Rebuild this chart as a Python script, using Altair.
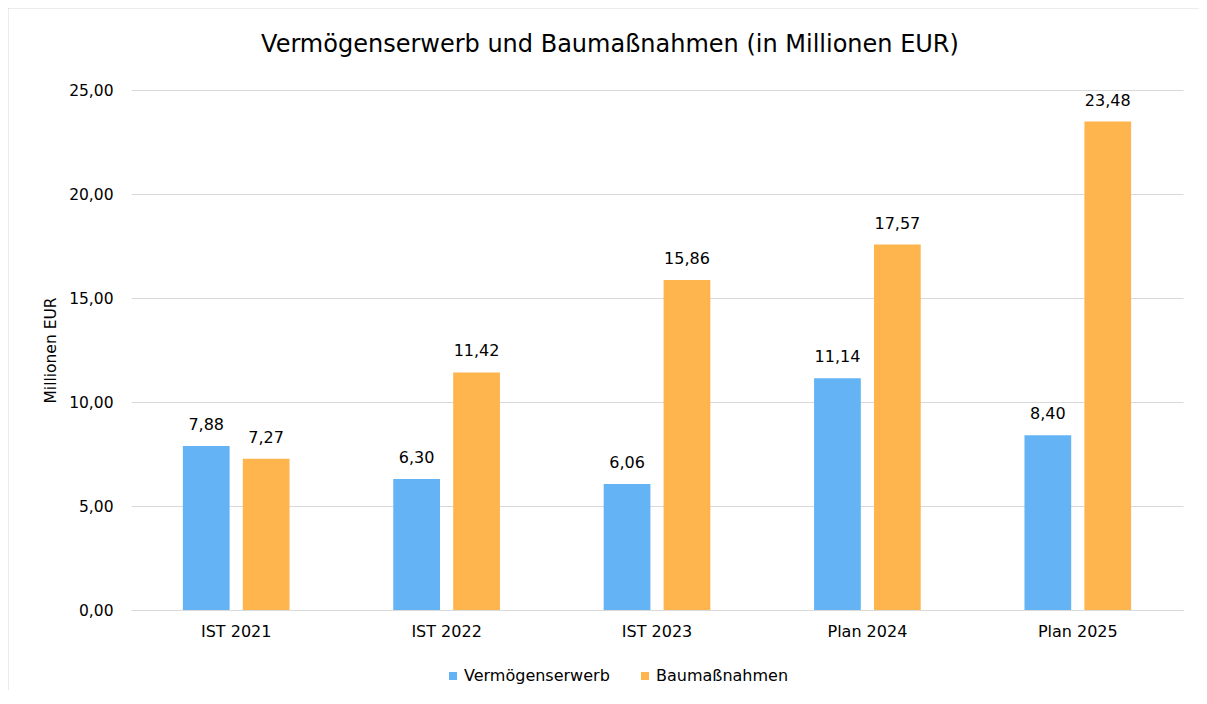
import altair as alt
import pandas as pd

categories = ["IST 2021", "IST 2022", "IST 2023", "Plan 2024", "Plan 2025"]
series = ["Vermögenserwerb", "Baumaßnahmen"]
vermoegenserwerb = [7.88, 6.30, 6.06, 11.14, 8.40]
baumassnahmen = [7.27, 11.42, 15.86, 17.57, 23.48]
colors = ["#63B3F5", "#FFB54D"]

rows = []
for c, v, b in zip(categories, vermoegenserwerb, baumassnahmen):
    rows.append({"cat": c, "series": series[0], "value": v})
    rows.append({"cat": c, "series": series[1], "value": b})
df = pd.DataFrame(rows)

FONT = "DejaVu Sans"
W, H = 1052, 520
LEFT = 123

base = alt.Chart(df).transform_calculate(
    label="replace(format(datum.value, '.2f'), '.', ',')"
).encode(
    x=alt.X("cat:N", sort=categories, title=None,
            scale=alt.Scale(paddingInner=0.493, paddingOuter=0.2465),
            axis=alt.Axis(labelAngle=0, labelFontSize=16, labelColor="#000000",
                          labelFont=FONT, ticks=False, domainColor="#d9d9d9",
                          labelPadding=13, domainWidth=1)),
    xOffset=alt.XOffset("series:N", sort=series,
                        scale=alt.Scale(paddingInner=0.22, paddingOuter=0)),
)

bars = base.mark_bar().encode(
    y=alt.Y("value:Q", title="Millionen EUR",
            scale=alt.Scale(domain=[0, 25], nice=False),
            axis=alt.Axis(values=[0, 5, 10, 15, 20, 25],
                          labelExpr="replace(format(datum.value, '.2f'), '.', ',')",
                          labelFontSize=15.5, labelColor="#000000", labelFont=FONT,
                          labelPadding=18, ticks=False, domain=False,
                          gridColor="#d9d9d9", gridWidth=1,
                          titleFont=FONT, titleFontSize=15.5, titleFontWeight="normal",
                          titleColor="#000000", titleX=-73)),
    color=alt.Color("series:N", sort=series,
                    scale=alt.Scale(domain=series, range=colors),
                    legend=alt.Legend(orient="none", direction="horizontal",
                                      legendX=314, legendY=578, title=None,
                                      symbolType="square", symbolSize=64,
                                      symbolStrokeWidth=0, labelFont=FONT,
                                      labelFontSize=16, labelColor="#000000",
                                      labelOffset=3, columnPadding=27, padding=0)),
)

labels = base.mark_text(baseline="alphabetic", dy=-16, font=FONT, fontSize=16,
                        color="#000000").encode(
    y=alt.Y("value:Q"),
    text="label:N",
)

border_left = alt.Chart(pd.DataFrame({"k": [0]})).mark_rule(color="#d9d9d9", strokeWidth=1).encode(
    x=alt.value(-LEFT), y=alt.value(-82), y2=alt.value(620))
border_top = alt.Chart(pd.DataFrame({"k": [0]})).mark_rule(color="#d9d9d9", strokeWidth=1).encode(
    x=alt.value(-LEFT), x2=alt.value(1076), y=alt.value(-82))

chart = alt.layer(bars, labels, border_left, border_top).properties(
    width=W, height=H,
    title=alt.TitleParams("Vermögenserwerb und Baumaßnahmen (in Millionen EUR)",
                          font=FONT, fontSize=24, fontWeight="normal",
                          color="#000000", anchor="middle", dx=-47,
                          baseline="alphabetic", offset=0, dy=68),
    autosize=alt.AutoSizeParams(type="none"),
    padding={"left": LEFT, "top": 82, "right": 16, "bottom": 80},
).configure(background="white").configure_view(strokeOpacity=0, strokeWidth=0)

chart.save("out.html", embed_options={"renderer": "svg", "actions": False})
